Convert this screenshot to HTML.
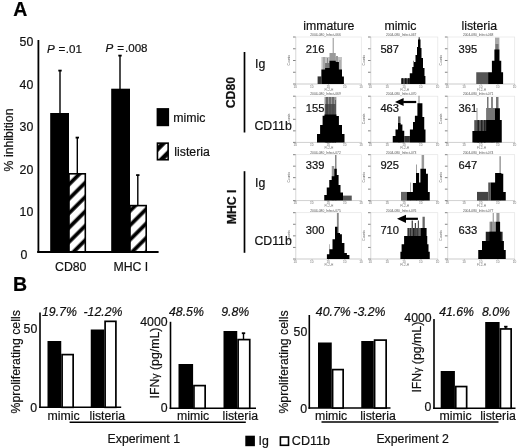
<!DOCTYPE html><html><head><meta charset="utf-8"><style>html,body{margin:0;padding:0;background:#fff;}svg{display:block;filter:blur(0.3px);}text{font-family:"Liberation Sans", sans-serif;}</style></head><body>
<svg width="520" height="448" viewBox="0 0 520 448">
<defs><pattern id="hatch" patternUnits="userSpaceOnUse" width="10.18" height="10.18" patternTransform="rotate(45 0 0)"><rect width="10.18" height="10.18" fill="#fff"/><rect x="4.27" y="0" width="3.75" height="10.18" fill="#000"/></pattern><pattern id="hatch3" patternUnits="userSpaceOnUse" width="10.18" height="10.18" patternTransform="rotate(45 0 0)"><rect width="10.18" height="10.18" fill="#fff"/><rect x="5.05" y="0" width="3.75" height="10.18" fill="#000"/></pattern><pattern id="hatch2" patternUnits="userSpaceOnUse" width="10.18" height="10.18" patternTransform="rotate(45 0 0)"><rect width="10.18" height="10.18" fill="#fff"/><rect x="0.71" y="0" width="4.6" height="10.18" fill="#000"/></pattern></defs>
<rect width="520" height="448" fill="#fff"/>
<text x="13.3" y="16" font-size="19.5" font-weight="bold" fill="#000" stroke="#000" stroke-width="0.2">A</text>
<line x1="38.4" y1="40" x2="38.4" y2="252.6" stroke="#000" stroke-width="1.8"/>
<line x1="37.2" y1="252.0" x2="158.6" y2="252.0" stroke="#000" stroke-width="1.8"/>
<text x="33.3" y="46.2" font-size="12.3" text-anchor="end" fill="#111" stroke="#111" stroke-width="0.2">50</text>
<text x="33.3" y="88.7" font-size="12.3" text-anchor="end" fill="#111" stroke="#111" stroke-width="0.2">40</text>
<text x="33.3" y="131.2" font-size="12.3" text-anchor="end" fill="#111" stroke="#111" stroke-width="0.2">30</text>
<text x="33.3" y="173.7" font-size="12.3" text-anchor="end" fill="#111" stroke="#111" stroke-width="0.2">20</text>
<text x="33.3" y="216.2" font-size="12.3" text-anchor="end" fill="#111" stroke="#111" stroke-width="0.2">10</text>
<text x="20.6" y="258.6" font-size="12.3" fill="#111" stroke="#111" stroke-width="0.2">0</text>
<text x="12.8" y="171.4" font-size="12.3" fill="#111" stroke="#111" stroke-width="0.2" transform="rotate(-90 12.8 171.4)">% inhibition</text>
<text x="47.0" y="52.5" font-size="11.6" font-style="italic" fill="#111" stroke="#111" stroke-width="0.2">P</text>
<text x="58.4" y="52.5" font-size="11.6" fill="#111" stroke="#111" stroke-width="0.2">=</text>
<text x="65.8" y="52.5" font-size="11.6" fill="#111" stroke="#111" stroke-width="0.2">.01</text>
<text x="105.4" y="52.4" font-size="11.6" font-style="italic" fill="#111" stroke="#111" stroke-width="0.2">P</text>
<text x="117.3" y="52.4" font-size="11.6" fill="#111" stroke="#111" stroke-width="0.2">=</text>
<text x="125.0" y="52.4" font-size="11.6" fill="#111" stroke="#111" stroke-width="0.2">.008</text>
<line x1="60.0" y1="70.5" x2="60.0" y2="113" stroke="#000" stroke-width="1.4"/>
<rect x="58.30" y="69.70" width="3.40" height="1.80" fill="#000"/>
<rect x="50.20" y="113.00" width="18.80" height="139.00" fill="#000"/>
<line x1="77.3" y1="137.5" x2="77.3" y2="174" stroke="#000" stroke-width="1.4"/>
<rect x="75.60" y="136.70" width="3.40" height="1.80" fill="#000"/>
<rect x="69" y="173.8" width="16.3" height="78" fill="url(#hatch)" stroke="#000" stroke-width="1.6"/>
<line x1="120.0" y1="55.5" x2="120.0" y2="89" stroke="#000" stroke-width="1.4"/>
<rect x="118.30" y="54.70" width="3.40" height="1.80" fill="#000"/>
<rect x="111.20" y="88.70" width="18.80" height="163.30" fill="#000"/>
<line x1="137.8" y1="175" x2="137.8" y2="205.5" stroke="#000" stroke-width="1.4"/>
<rect x="136.10" y="174.20" width="3.40" height="1.80" fill="#000"/>
<rect x="130" y="205.6" width="16.2" height="46.2" fill="url(#hatch3)" stroke="#000" stroke-width="1.6"/>
<text x="55.0" y="271.3" font-size="12.3" fill="#111" stroke="#111" stroke-width="0.2">CD80</text>
<text x="113.4" y="271.3" font-size="12.3" fill="#111" stroke="#111" stroke-width="0.2">MHC I</text>
<rect x="156.60" y="108.10" width="12.50" height="18.10" fill="#000"/>
<text x="173.3" y="122.3" font-size="12.3" fill="#111" stroke="#111" stroke-width="0.2">mimic</text>
<rect x="157.45" y="143.15" width="10.7" height="16.6" fill="url(#hatch2)" stroke="#000" stroke-width="1.6"/>
<text x="174.3" y="156.0" font-size="12.3" fill="#111" stroke="#111" stroke-width="0.2">listeria</text>
<text x="303.2" y="29.5" font-size="12.3" fill="#111" stroke="#111" stroke-width="0.2">immature</text>
<text x="384.4" y="29.5" font-size="12.3" fill="#111" stroke="#111" stroke-width="0.2">mimic</text>
<text x="461.5" y="29.5" font-size="12.3" fill="#111" stroke="#111" stroke-width="0.2">listeria</text>
<text x="234.6" y="108.3" font-size="12.3" font-weight="bold" fill="#111" stroke="#111" stroke-width="0.2" transform="rotate(-90 234.6 108.3)">CD80</text>
<text x="236.0" y="224.3" font-size="12.3" font-weight="bold" fill="#111" stroke="#111" stroke-width="0.2" transform="rotate(-90 236.0 224.3)">MHC I</text>
<line x1="244.5" y1="52" x2="244.5" y2="132.5" stroke="#000" stroke-width="1.7"/>
<line x1="244.5" y1="171.2" x2="244.5" y2="252.8" stroke="#000" stroke-width="1.7"/>
<text x="255.0" y="68.1" font-size="12.3" fill="#111" stroke="#111" stroke-width="0.2">Ig</text>
<text x="254.4" y="129.8" font-size="12.3" fill="#111" stroke="#111" stroke-width="0.2">CD11b</text>
<text x="255.0" y="187.2" font-size="12.3" fill="#111" stroke="#111" stroke-width="0.2">Ig</text>
<text x="254.4" y="245.2" font-size="12.3" fill="#111" stroke="#111" stroke-width="0.2">CD11b</text>
<rect x="295.6" y="37.0" width="65.7" height="47.0" fill="none" stroke="#e4e4e4" stroke-width="0.7"/>
<line x1="295.90000000000003" y1="37.0" x2="295.90000000000003" y2="84.0" stroke="#d0d0d0" stroke-width="0.6"/>
<line x1="295.6" y1="84.0" x2="361.3" y2="84.0" stroke="#c0c0c0" stroke-width="0.6"/>
<line x1="293.0" y1="37.0" x2="295.6" y2="37.0" stroke="#777" stroke-width="0.9"/>
<line x1="293.0" y1="48.75" x2="295.6" y2="48.75" stroke="#777" stroke-width="0.9"/>
<line x1="293.0" y1="60.5" x2="295.6" y2="60.5" stroke="#777" stroke-width="0.9"/>
<line x1="293.0" y1="72.25" x2="295.6" y2="72.25" stroke="#777" stroke-width="0.9"/>
<line x1="293.0" y1="84.0" x2="295.6" y2="84.0" stroke="#777" stroke-width="0.9"/>
<line x1="295.6" y1="84.0" x2="295.6" y2="85.5" stroke="#999" stroke-width="0.6"/>
<text x="293.6" y="87.6" font-size="3.2" fill="#777">10</text>
<line x1="312.02500000000003" y1="84.0" x2="312.02500000000003" y2="85.5" stroke="#999" stroke-width="0.6"/>
<text x="310.0" y="87.6" font-size="3.2" fill="#777">10</text>
<line x1="328.45000000000005" y1="84.0" x2="328.45000000000005" y2="85.5" stroke="#999" stroke-width="0.6"/>
<text x="326.5" y="87.6" font-size="3.2" fill="#777">10</text>
<line x1="344.875" y1="84.0" x2="344.875" y2="85.5" stroke="#999" stroke-width="0.6"/>
<text x="342.9" y="87.6" font-size="3.2" fill="#777">10</text>
<line x1="361.3" y1="84.0" x2="361.3" y2="85.5" stroke="#999" stroke-width="0.6"/>
<text x="359.3" y="87.6" font-size="3.2" fill="#777">10</text>
<text x="324.5" y="90.6" font-size="3.2" fill="#777">FL2-H</text>
<text x="290.1" y="65.5" font-size="3.4" fill="#666" transform="rotate(-90 290.1 65.5)">Counts</text>
<text x="325.5" y="36.0" font-size="3.3" text-anchor="middle" fill="#555">2004-080_Infect-066</text>
<text x="305.8" y="52.6" font-size="11.2" fill="#111" stroke="#111" stroke-width="0.2">216</text>
<rect x="370.6" y="37.0" width="67.2" height="47.0" fill="none" stroke="#e4e4e4" stroke-width="0.7"/>
<line x1="370.90000000000003" y1="37.0" x2="370.90000000000003" y2="84.0" stroke="#d0d0d0" stroke-width="0.6"/>
<line x1="370.6" y1="84.0" x2="437.8" y2="84.0" stroke="#c0c0c0" stroke-width="0.6"/>
<line x1="368.0" y1="37.0" x2="370.6" y2="37.0" stroke="#777" stroke-width="0.9"/>
<line x1="368.0" y1="48.75" x2="370.6" y2="48.75" stroke="#777" stroke-width="0.9"/>
<line x1="368.0" y1="60.5" x2="370.6" y2="60.5" stroke="#777" stroke-width="0.9"/>
<line x1="368.0" y1="72.25" x2="370.6" y2="72.25" stroke="#777" stroke-width="0.9"/>
<line x1="368.0" y1="84.0" x2="370.6" y2="84.0" stroke="#777" stroke-width="0.9"/>
<line x1="370.6" y1="84.0" x2="370.6" y2="85.5" stroke="#999" stroke-width="0.6"/>
<text x="368.6" y="87.6" font-size="3.2" fill="#777">10</text>
<line x1="387.40000000000003" y1="84.0" x2="387.40000000000003" y2="85.5" stroke="#999" stroke-width="0.6"/>
<text x="385.4" y="87.6" font-size="3.2" fill="#777">10</text>
<line x1="404.20000000000005" y1="84.0" x2="404.20000000000005" y2="85.5" stroke="#999" stroke-width="0.6"/>
<text x="402.2" y="87.6" font-size="3.2" fill="#777">10</text>
<line x1="421.0" y1="84.0" x2="421.0" y2="85.5" stroke="#999" stroke-width="0.6"/>
<text x="419.0" y="87.6" font-size="3.2" fill="#777">10</text>
<line x1="437.8" y1="84.0" x2="437.8" y2="85.5" stroke="#999" stroke-width="0.6"/>
<text x="435.8" y="87.6" font-size="3.2" fill="#777">10</text>
<text x="400.2" y="90.6" font-size="3.2" fill="#777">FL2-H</text>
<text x="365.1" y="65.5" font-size="3.4" fill="#666" transform="rotate(-90 365.1 65.5)">Counts</text>
<text x="401.2" y="36.0" font-size="3.3" text-anchor="middle" fill="#555">2004-080_Infect-067</text>
<text x="380.4" y="52.6" font-size="11.2" fill="#111" stroke="#111" stroke-width="0.2">587</text>
<rect x="447.5" y="37.0" width="67.2" height="47.0" fill="none" stroke="#e4e4e4" stroke-width="0.7"/>
<line x1="447.8" y1="37.0" x2="447.8" y2="84.0" stroke="#d0d0d0" stroke-width="0.6"/>
<line x1="447.5" y1="84.0" x2="514.7" y2="84.0" stroke="#c0c0c0" stroke-width="0.6"/>
<line x1="444.9" y1="37.0" x2="447.5" y2="37.0" stroke="#777" stroke-width="0.9"/>
<line x1="444.9" y1="48.75" x2="447.5" y2="48.75" stroke="#777" stroke-width="0.9"/>
<line x1="444.9" y1="60.5" x2="447.5" y2="60.5" stroke="#777" stroke-width="0.9"/>
<line x1="444.9" y1="72.25" x2="447.5" y2="72.25" stroke="#777" stroke-width="0.9"/>
<line x1="444.9" y1="84.0" x2="447.5" y2="84.0" stroke="#777" stroke-width="0.9"/>
<line x1="447.5" y1="84.0" x2="447.5" y2="85.5" stroke="#999" stroke-width="0.6"/>
<text x="445.5" y="87.6" font-size="3.2" fill="#777">10</text>
<line x1="464.3" y1="84.0" x2="464.3" y2="85.5" stroke="#999" stroke-width="0.6"/>
<text x="462.3" y="87.6" font-size="3.2" fill="#777">10</text>
<line x1="481.1" y1="84.0" x2="481.1" y2="85.5" stroke="#999" stroke-width="0.6"/>
<text x="479.1" y="87.6" font-size="3.2" fill="#777">10</text>
<line x1="497.90000000000003" y1="84.0" x2="497.90000000000003" y2="85.5" stroke="#999" stroke-width="0.6"/>
<text x="495.9" y="87.6" font-size="3.2" fill="#777">10</text>
<line x1="514.7" y1="84.0" x2="514.7" y2="85.5" stroke="#999" stroke-width="0.6"/>
<text x="512.7" y="87.6" font-size="3.2" fill="#777">10</text>
<text x="477.1" y="90.6" font-size="3.2" fill="#777">FL2-H</text>
<text x="442.0" y="65.5" font-size="3.4" fill="#666" transform="rotate(-90 442.0 65.5)">Counts</text>
<text x="478.1" y="36.0" font-size="3.3" text-anchor="middle" fill="#555">2004-080_Infect-068</text>
<text x="458.6" y="52.6" font-size="11.2" fill="#111" stroke="#111" stroke-width="0.2">395</text>
<rect x="295.6" y="96.2" width="65.7" height="46.2" fill="none" stroke="#e4e4e4" stroke-width="0.7"/>
<line x1="295.90000000000003" y1="96.2" x2="295.90000000000003" y2="142.4" stroke="#d0d0d0" stroke-width="0.6"/>
<line x1="295.6" y1="142.4" x2="361.3" y2="142.4" stroke="#c0c0c0" stroke-width="0.6"/>
<line x1="293.0" y1="96.2" x2="295.6" y2="96.2" stroke="#777" stroke-width="0.9"/>
<line x1="293.0" y1="107.75" x2="295.6" y2="107.75" stroke="#777" stroke-width="0.9"/>
<line x1="293.0" y1="119.30000000000001" x2="295.6" y2="119.30000000000001" stroke="#777" stroke-width="0.9"/>
<line x1="293.0" y1="130.85000000000002" x2="295.6" y2="130.85000000000002" stroke="#777" stroke-width="0.9"/>
<line x1="293.0" y1="142.4" x2="295.6" y2="142.4" stroke="#777" stroke-width="0.9"/>
<line x1="295.6" y1="142.4" x2="295.6" y2="143.9" stroke="#999" stroke-width="0.6"/>
<text x="293.6" y="146.0" font-size="3.2" fill="#777">10</text>
<line x1="312.02500000000003" y1="142.4" x2="312.02500000000003" y2="143.9" stroke="#999" stroke-width="0.6"/>
<text x="310.0" y="146.0" font-size="3.2" fill="#777">10</text>
<line x1="328.45000000000005" y1="142.4" x2="328.45000000000005" y2="143.9" stroke="#999" stroke-width="0.6"/>
<text x="326.5" y="146.0" font-size="3.2" fill="#777">10</text>
<line x1="344.875" y1="142.4" x2="344.875" y2="143.9" stroke="#999" stroke-width="0.6"/>
<text x="342.9" y="146.0" font-size="3.2" fill="#777">10</text>
<line x1="361.3" y1="142.4" x2="361.3" y2="143.9" stroke="#999" stroke-width="0.6"/>
<text x="359.3" y="146.0" font-size="3.2" fill="#777">10</text>
<text x="324.5" y="149.0" font-size="3.2" fill="#777">FL2-H</text>
<text x="290.1" y="124.3" font-size="3.4" fill="#666" transform="rotate(-90 290.1 124.3)">Counts</text>
<text x="325.5" y="95.2" font-size="3.3" text-anchor="middle" fill="#555">2004-080_Infect-069</text>
<text x="305.8" y="111.7" font-size="11.2" fill="#111" stroke="#111" stroke-width="0.2">155</text>
<rect x="370.6" y="96.2" width="67.2" height="46.2" fill="none" stroke="#e4e4e4" stroke-width="0.7"/>
<line x1="370.90000000000003" y1="96.2" x2="370.90000000000003" y2="142.4" stroke="#d0d0d0" stroke-width="0.6"/>
<line x1="370.6" y1="142.4" x2="437.8" y2="142.4" stroke="#c0c0c0" stroke-width="0.6"/>
<line x1="368.0" y1="96.2" x2="370.6" y2="96.2" stroke="#777" stroke-width="0.9"/>
<line x1="368.0" y1="107.75" x2="370.6" y2="107.75" stroke="#777" stroke-width="0.9"/>
<line x1="368.0" y1="119.30000000000001" x2="370.6" y2="119.30000000000001" stroke="#777" stroke-width="0.9"/>
<line x1="368.0" y1="130.85000000000002" x2="370.6" y2="130.85000000000002" stroke="#777" stroke-width="0.9"/>
<line x1="368.0" y1="142.4" x2="370.6" y2="142.4" stroke="#777" stroke-width="0.9"/>
<line x1="370.6" y1="142.4" x2="370.6" y2="143.9" stroke="#999" stroke-width="0.6"/>
<text x="368.6" y="146.0" font-size="3.2" fill="#777">10</text>
<line x1="387.40000000000003" y1="142.4" x2="387.40000000000003" y2="143.9" stroke="#999" stroke-width="0.6"/>
<text x="385.4" y="146.0" font-size="3.2" fill="#777">10</text>
<line x1="404.20000000000005" y1="142.4" x2="404.20000000000005" y2="143.9" stroke="#999" stroke-width="0.6"/>
<text x="402.2" y="146.0" font-size="3.2" fill="#777">10</text>
<line x1="421.0" y1="142.4" x2="421.0" y2="143.9" stroke="#999" stroke-width="0.6"/>
<text x="419.0" y="146.0" font-size="3.2" fill="#777">10</text>
<line x1="437.8" y1="142.4" x2="437.8" y2="143.9" stroke="#999" stroke-width="0.6"/>
<text x="435.8" y="146.0" font-size="3.2" fill="#777">10</text>
<text x="400.2" y="149.0" font-size="3.2" fill="#777">FL2-H</text>
<text x="365.1" y="124.3" font-size="3.4" fill="#666" transform="rotate(-90 365.1 124.3)">Counts</text>
<text x="401.2" y="95.2" font-size="3.3" text-anchor="middle" fill="#555">2004-080_Infect-070</text>
<text x="380.4" y="111.7" font-size="11.2" fill="#111" stroke="#111" stroke-width="0.2">463</text>
<rect x="447.5" y="96.2" width="67.2" height="46.2" fill="none" stroke="#e4e4e4" stroke-width="0.7"/>
<line x1="447.8" y1="96.2" x2="447.8" y2="142.4" stroke="#d0d0d0" stroke-width="0.6"/>
<line x1="447.5" y1="142.4" x2="514.7" y2="142.4" stroke="#c0c0c0" stroke-width="0.6"/>
<line x1="444.9" y1="96.2" x2="447.5" y2="96.2" stroke="#777" stroke-width="0.9"/>
<line x1="444.9" y1="107.75" x2="447.5" y2="107.75" stroke="#777" stroke-width="0.9"/>
<line x1="444.9" y1="119.30000000000001" x2="447.5" y2="119.30000000000001" stroke="#777" stroke-width="0.9"/>
<line x1="444.9" y1="130.85000000000002" x2="447.5" y2="130.85000000000002" stroke="#777" stroke-width="0.9"/>
<line x1="444.9" y1="142.4" x2="447.5" y2="142.4" stroke="#777" stroke-width="0.9"/>
<line x1="447.5" y1="142.4" x2="447.5" y2="143.9" stroke="#999" stroke-width="0.6"/>
<text x="445.5" y="146.0" font-size="3.2" fill="#777">10</text>
<line x1="464.3" y1="142.4" x2="464.3" y2="143.9" stroke="#999" stroke-width="0.6"/>
<text x="462.3" y="146.0" font-size="3.2" fill="#777">10</text>
<line x1="481.1" y1="142.4" x2="481.1" y2="143.9" stroke="#999" stroke-width="0.6"/>
<text x="479.1" y="146.0" font-size="3.2" fill="#777">10</text>
<line x1="497.90000000000003" y1="142.4" x2="497.90000000000003" y2="143.9" stroke="#999" stroke-width="0.6"/>
<text x="495.9" y="146.0" font-size="3.2" fill="#777">10</text>
<line x1="514.7" y1="142.4" x2="514.7" y2="143.9" stroke="#999" stroke-width="0.6"/>
<text x="512.7" y="146.0" font-size="3.2" fill="#777">10</text>
<text x="477.1" y="149.0" font-size="3.2" fill="#777">FL2-H</text>
<text x="442.0" y="124.3" font-size="3.4" fill="#666" transform="rotate(-90 442.0 124.3)">Counts</text>
<text x="478.1" y="95.2" font-size="3.3" text-anchor="middle" fill="#555">2004-080_Infect-071</text>
<text x="458.6" y="111.7" font-size="11.2" fill="#111" stroke="#111" stroke-width="0.2">361</text>
<rect x="295.6" y="154.7" width="65.7" height="45.9" fill="none" stroke="#e4e4e4" stroke-width="0.7"/>
<line x1="295.90000000000003" y1="154.7" x2="295.90000000000003" y2="200.6" stroke="#d0d0d0" stroke-width="0.6"/>
<line x1="295.6" y1="200.6" x2="361.3" y2="200.6" stroke="#c0c0c0" stroke-width="0.6"/>
<line x1="293.0" y1="154.7" x2="295.6" y2="154.7" stroke="#777" stroke-width="0.9"/>
<line x1="293.0" y1="166.17499999999998" x2="295.6" y2="166.17499999999998" stroke="#777" stroke-width="0.9"/>
<line x1="293.0" y1="177.64999999999998" x2="295.6" y2="177.64999999999998" stroke="#777" stroke-width="0.9"/>
<line x1="293.0" y1="189.125" x2="295.6" y2="189.125" stroke="#777" stroke-width="0.9"/>
<line x1="293.0" y1="200.6" x2="295.6" y2="200.6" stroke="#777" stroke-width="0.9"/>
<line x1="295.6" y1="200.6" x2="295.6" y2="202.1" stroke="#999" stroke-width="0.6"/>
<text x="293.6" y="204.2" font-size="3.2" fill="#777">10</text>
<line x1="312.02500000000003" y1="200.6" x2="312.02500000000003" y2="202.1" stroke="#999" stroke-width="0.6"/>
<text x="310.0" y="204.2" font-size="3.2" fill="#777">10</text>
<line x1="328.45000000000005" y1="200.6" x2="328.45000000000005" y2="202.1" stroke="#999" stroke-width="0.6"/>
<text x="326.5" y="204.2" font-size="3.2" fill="#777">10</text>
<line x1="344.875" y1="200.6" x2="344.875" y2="202.1" stroke="#999" stroke-width="0.6"/>
<text x="342.9" y="204.2" font-size="3.2" fill="#777">10</text>
<line x1="361.3" y1="200.6" x2="361.3" y2="202.1" stroke="#999" stroke-width="0.6"/>
<text x="359.3" y="204.2" font-size="3.2" fill="#777">10</text>
<text x="324.5" y="207.2" font-size="3.2" fill="#777">FL2-H</text>
<text x="290.1" y="182.6" font-size="3.4" fill="#666" transform="rotate(-90 290.1 182.6)">Counts</text>
<text x="325.5" y="153.7" font-size="3.3" text-anchor="middle" fill="#555">2004-080_Infect-072</text>
<text x="305.8" y="169.4" font-size="11.2" fill="#111" stroke="#111" stroke-width="0.2">339</text>
<rect x="370.6" y="154.7" width="67.2" height="45.9" fill="none" stroke="#e4e4e4" stroke-width="0.7"/>
<line x1="370.90000000000003" y1="154.7" x2="370.90000000000003" y2="200.6" stroke="#d0d0d0" stroke-width="0.6"/>
<line x1="370.6" y1="200.6" x2="437.8" y2="200.6" stroke="#c0c0c0" stroke-width="0.6"/>
<line x1="368.0" y1="154.7" x2="370.6" y2="154.7" stroke="#777" stroke-width="0.9"/>
<line x1="368.0" y1="166.17499999999998" x2="370.6" y2="166.17499999999998" stroke="#777" stroke-width="0.9"/>
<line x1="368.0" y1="177.64999999999998" x2="370.6" y2="177.64999999999998" stroke="#777" stroke-width="0.9"/>
<line x1="368.0" y1="189.125" x2="370.6" y2="189.125" stroke="#777" stroke-width="0.9"/>
<line x1="368.0" y1="200.6" x2="370.6" y2="200.6" stroke="#777" stroke-width="0.9"/>
<line x1="370.6" y1="200.6" x2="370.6" y2="202.1" stroke="#999" stroke-width="0.6"/>
<text x="368.6" y="204.2" font-size="3.2" fill="#777">10</text>
<line x1="387.40000000000003" y1="200.6" x2="387.40000000000003" y2="202.1" stroke="#999" stroke-width="0.6"/>
<text x="385.4" y="204.2" font-size="3.2" fill="#777">10</text>
<line x1="404.20000000000005" y1="200.6" x2="404.20000000000005" y2="202.1" stroke="#999" stroke-width="0.6"/>
<text x="402.2" y="204.2" font-size="3.2" fill="#777">10</text>
<line x1="421.0" y1="200.6" x2="421.0" y2="202.1" stroke="#999" stroke-width="0.6"/>
<text x="419.0" y="204.2" font-size="3.2" fill="#777">10</text>
<line x1="437.8" y1="200.6" x2="437.8" y2="202.1" stroke="#999" stroke-width="0.6"/>
<text x="435.8" y="204.2" font-size="3.2" fill="#777">10</text>
<text x="400.2" y="207.2" font-size="3.2" fill="#777">FL2-H</text>
<text x="365.1" y="182.6" font-size="3.4" fill="#666" transform="rotate(-90 365.1 182.6)">Counts</text>
<text x="401.2" y="153.7" font-size="3.3" text-anchor="middle" fill="#555">2004-080_Infect-073</text>
<text x="380.4" y="169.4" font-size="11.2" fill="#111" stroke="#111" stroke-width="0.2">925</text>
<rect x="447.5" y="154.7" width="67.2" height="45.9" fill="none" stroke="#e4e4e4" stroke-width="0.7"/>
<line x1="447.8" y1="154.7" x2="447.8" y2="200.6" stroke="#d0d0d0" stroke-width="0.6"/>
<line x1="447.5" y1="200.6" x2="514.7" y2="200.6" stroke="#c0c0c0" stroke-width="0.6"/>
<line x1="444.9" y1="154.7" x2="447.5" y2="154.7" stroke="#777" stroke-width="0.9"/>
<line x1="444.9" y1="166.17499999999998" x2="447.5" y2="166.17499999999998" stroke="#777" stroke-width="0.9"/>
<line x1="444.9" y1="177.64999999999998" x2="447.5" y2="177.64999999999998" stroke="#777" stroke-width="0.9"/>
<line x1="444.9" y1="189.125" x2="447.5" y2="189.125" stroke="#777" stroke-width="0.9"/>
<line x1="444.9" y1="200.6" x2="447.5" y2="200.6" stroke="#777" stroke-width="0.9"/>
<line x1="447.5" y1="200.6" x2="447.5" y2="202.1" stroke="#999" stroke-width="0.6"/>
<text x="445.5" y="204.2" font-size="3.2" fill="#777">10</text>
<line x1="464.3" y1="200.6" x2="464.3" y2="202.1" stroke="#999" stroke-width="0.6"/>
<text x="462.3" y="204.2" font-size="3.2" fill="#777">10</text>
<line x1="481.1" y1="200.6" x2="481.1" y2="202.1" stroke="#999" stroke-width="0.6"/>
<text x="479.1" y="204.2" font-size="3.2" fill="#777">10</text>
<line x1="497.90000000000003" y1="200.6" x2="497.90000000000003" y2="202.1" stroke="#999" stroke-width="0.6"/>
<text x="495.9" y="204.2" font-size="3.2" fill="#777">10</text>
<line x1="514.7" y1="200.6" x2="514.7" y2="202.1" stroke="#999" stroke-width="0.6"/>
<text x="512.7" y="204.2" font-size="3.2" fill="#777">10</text>
<text x="477.1" y="207.2" font-size="3.2" fill="#777">FL2-H</text>
<text x="442.0" y="182.6" font-size="3.4" fill="#666" transform="rotate(-90 442.0 182.6)">Counts</text>
<text x="478.1" y="153.7" font-size="3.3" text-anchor="middle" fill="#555">2004-080_Infect-074</text>
<text x="458.6" y="169.4" font-size="11.2" fill="#111" stroke="#111" stroke-width="0.2">647</text>
<rect x="295.6" y="212.7" width="65.7" height="46.3" fill="none" stroke="#e4e4e4" stroke-width="0.7"/>
<line x1="295.90000000000003" y1="212.7" x2="295.90000000000003" y2="259.0" stroke="#d0d0d0" stroke-width="0.6"/>
<line x1="295.6" y1="259.0" x2="361.3" y2="259.0" stroke="#c0c0c0" stroke-width="0.6"/>
<line x1="293.0" y1="212.7" x2="295.6" y2="212.7" stroke="#777" stroke-width="0.9"/>
<line x1="293.0" y1="224.27499999999998" x2="295.6" y2="224.27499999999998" stroke="#777" stroke-width="0.9"/>
<line x1="293.0" y1="235.85" x2="295.6" y2="235.85" stroke="#777" stroke-width="0.9"/>
<line x1="293.0" y1="247.425" x2="295.6" y2="247.425" stroke="#777" stroke-width="0.9"/>
<line x1="293.0" y1="259.0" x2="295.6" y2="259.0" stroke="#777" stroke-width="0.9"/>
<line x1="295.6" y1="259.0" x2="295.6" y2="260.5" stroke="#999" stroke-width="0.6"/>
<text x="293.6" y="262.6" font-size="3.2" fill="#777">10</text>
<line x1="312.02500000000003" y1="259.0" x2="312.02500000000003" y2="260.5" stroke="#999" stroke-width="0.6"/>
<text x="310.0" y="262.6" font-size="3.2" fill="#777">10</text>
<line x1="328.45000000000005" y1="259.0" x2="328.45000000000005" y2="260.5" stroke="#999" stroke-width="0.6"/>
<text x="326.5" y="262.6" font-size="3.2" fill="#777">10</text>
<line x1="344.875" y1="259.0" x2="344.875" y2="260.5" stroke="#999" stroke-width="0.6"/>
<text x="342.9" y="262.6" font-size="3.2" fill="#777">10</text>
<line x1="361.3" y1="259.0" x2="361.3" y2="260.5" stroke="#999" stroke-width="0.6"/>
<text x="359.3" y="262.6" font-size="3.2" fill="#777">10</text>
<text x="324.5" y="265.6" font-size="3.2" fill="#777">FL2-H</text>
<text x="290.1" y="240.8" font-size="3.4" fill="#666" transform="rotate(-90 290.1 240.8)">Counts</text>
<text x="325.5" y="211.7" font-size="3.3" text-anchor="middle" fill="#555">2004-080_Infect-075</text>
<text x="305.8" y="233.8" font-size="11.2" fill="#111" stroke="#111" stroke-width="0.2">300</text>
<rect x="370.6" y="212.7" width="67.2" height="46.3" fill="none" stroke="#e4e4e4" stroke-width="0.7"/>
<line x1="370.90000000000003" y1="212.7" x2="370.90000000000003" y2="259.0" stroke="#d0d0d0" stroke-width="0.6"/>
<line x1="370.6" y1="259.0" x2="437.8" y2="259.0" stroke="#c0c0c0" stroke-width="0.6"/>
<line x1="368.0" y1="212.7" x2="370.6" y2="212.7" stroke="#777" stroke-width="0.9"/>
<line x1="368.0" y1="224.27499999999998" x2="370.6" y2="224.27499999999998" stroke="#777" stroke-width="0.9"/>
<line x1="368.0" y1="235.85" x2="370.6" y2="235.85" stroke="#777" stroke-width="0.9"/>
<line x1="368.0" y1="247.425" x2="370.6" y2="247.425" stroke="#777" stroke-width="0.9"/>
<line x1="368.0" y1="259.0" x2="370.6" y2="259.0" stroke="#777" stroke-width="0.9"/>
<line x1="370.6" y1="259.0" x2="370.6" y2="260.5" stroke="#999" stroke-width="0.6"/>
<text x="368.6" y="262.6" font-size="3.2" fill="#777">10</text>
<line x1="387.40000000000003" y1="259.0" x2="387.40000000000003" y2="260.5" stroke="#999" stroke-width="0.6"/>
<text x="385.4" y="262.6" font-size="3.2" fill="#777">10</text>
<line x1="404.20000000000005" y1="259.0" x2="404.20000000000005" y2="260.5" stroke="#999" stroke-width="0.6"/>
<text x="402.2" y="262.6" font-size="3.2" fill="#777">10</text>
<line x1="421.0" y1="259.0" x2="421.0" y2="260.5" stroke="#999" stroke-width="0.6"/>
<text x="419.0" y="262.6" font-size="3.2" fill="#777">10</text>
<line x1="437.8" y1="259.0" x2="437.8" y2="260.5" stroke="#999" stroke-width="0.6"/>
<text x="435.8" y="262.6" font-size="3.2" fill="#777">10</text>
<text x="400.2" y="265.6" font-size="3.2" fill="#777">FL2-H</text>
<text x="365.1" y="240.8" font-size="3.4" fill="#666" transform="rotate(-90 365.1 240.8)">Counts</text>
<text x="401.2" y="211.7" font-size="3.3" text-anchor="middle" fill="#555">2004-080_Infect-076</text>
<text x="380.4" y="233.8" font-size="11.2" fill="#111" stroke="#111" stroke-width="0.2">710</text>
<rect x="447.5" y="212.7" width="67.2" height="46.3" fill="none" stroke="#e4e4e4" stroke-width="0.7"/>
<line x1="447.8" y1="212.7" x2="447.8" y2="259.0" stroke="#d0d0d0" stroke-width="0.6"/>
<line x1="447.5" y1="259.0" x2="514.7" y2="259.0" stroke="#c0c0c0" stroke-width="0.6"/>
<line x1="444.9" y1="212.7" x2="447.5" y2="212.7" stroke="#777" stroke-width="0.9"/>
<line x1="444.9" y1="224.27499999999998" x2="447.5" y2="224.27499999999998" stroke="#777" stroke-width="0.9"/>
<line x1="444.9" y1="235.85" x2="447.5" y2="235.85" stroke="#777" stroke-width="0.9"/>
<line x1="444.9" y1="247.425" x2="447.5" y2="247.425" stroke="#777" stroke-width="0.9"/>
<line x1="444.9" y1="259.0" x2="447.5" y2="259.0" stroke="#777" stroke-width="0.9"/>
<line x1="447.5" y1="259.0" x2="447.5" y2="260.5" stroke="#999" stroke-width="0.6"/>
<text x="445.5" y="262.6" font-size="3.2" fill="#777">10</text>
<line x1="464.3" y1="259.0" x2="464.3" y2="260.5" stroke="#999" stroke-width="0.6"/>
<text x="462.3" y="262.6" font-size="3.2" fill="#777">10</text>
<line x1="481.1" y1="259.0" x2="481.1" y2="260.5" stroke="#999" stroke-width="0.6"/>
<text x="479.1" y="262.6" font-size="3.2" fill="#777">10</text>
<line x1="497.90000000000003" y1="259.0" x2="497.90000000000003" y2="260.5" stroke="#999" stroke-width="0.6"/>
<text x="495.9" y="262.6" font-size="3.2" fill="#777">10</text>
<line x1="514.7" y1="259.0" x2="514.7" y2="260.5" stroke="#999" stroke-width="0.6"/>
<text x="512.7" y="262.6" font-size="3.2" fill="#777">10</text>
<text x="477.1" y="265.6" font-size="3.2" fill="#777">FL2-H</text>
<text x="442.0" y="240.8" font-size="3.4" fill="#666" transform="rotate(-90 442.0 240.8)">Counts</text>
<text x="478.1" y="211.7" font-size="3.3" text-anchor="middle" fill="#555">2004-080_Infect-077</text>
<text x="458.6" y="233.8" font-size="11.2" fill="#111" stroke="#111" stroke-width="0.2">633</text>
<path d="M321.40 84.00V57.00H342.00V84.00Z" fill="#c4c4c4"/>
<path d="M332.60 84.00V38.00H333.90V84.00Z" fill="#aaa"/>
<path d="M329.50 84.00V53.00H335.75V84.00ZM336.00 84.00V56.00H338.00V84.00ZM339.50 84.00V60.00H340.50V84.00Z" fill="#999"/>
<path d="M323.50 84.00V57.00H324.50V84.00ZM327.00 84.00V58.00H328.00V84.00Z" fill="#888"/>
<path d="M325.10 84.00V63.00H329.50V84.00Z" fill="#777"/>
<path d="M317.60 84.00V76.40H321.40V84.00Z" fill="#333"/>
<path d="M321.40 84.00V69.50H325.10V84.00ZM325.10 84.00V68.00H329.50V84.00ZM329.50 84.00V60.75H335.75V84.00ZM335.75 84.00V62.00H338.90V84.00ZM338.90 84.00V69.50H342.00V84.00ZM342.00 84.00V76.40H343.90V84.00Z" fill="#000"/>
<path d="M413.00 84.00V60.75H414.00V84.00Z" fill="#888"/>
<path d="M418.50 84.00V37.20H420.00V84.00Z" fill="#666"/>
<path d="M401.00 84.00V78.25H409.75V84.00Z" fill="#444"/>
<path d="M402.00 84.00V78.25H403.00V84.00ZM405.00 84.00V78.25H406.50V84.00ZM408.00 84.00V78.25H409.75V84.00Z" fill="#111"/>
<path d="M409.75 84.00V73.25H412.25V84.00ZM412.25 84.00V67.00H414.00V84.00ZM414.00 84.00V62.00H415.50V84.00ZM415.50 84.00V55.00H417.00V84.00ZM417.00 84.00V47.00H418.00V84.00ZM418.00 84.00V39.50H420.50V84.00ZM420.50 84.00V48.00H421.50V84.00ZM421.50 84.00V58.00H423.00V84.00ZM423.00 84.00V68.00H424.50V84.00ZM424.50 84.00V76.00H425.40V84.00Z" fill="#000"/>
<path d="M495.00 84.00V37.60H499.40V84.00Z" fill="#aaa"/>
<path d="M495.50 84.00V44.00H498.50V84.00Z" fill="#777"/>
<path d="M476.25 84.00V72.25H488.10V84.00Z" fill="#555"/>
<path d="M488.10 84.00V72.25H491.90V84.00ZM491.90 84.00V60.75H494.40V84.00ZM494.40 84.00V49.50H499.40V84.00ZM499.40 84.00V60.75H501.25V84.00ZM501.25 84.00V72.25H503.10V84.00Z" fill="#000"/>
<path d="M324.50 142.40V97.00H336.40V142.40Z" fill="#999"/>
<path d="M335.00 142.40V100.00H336.00V142.40Z" fill="#666"/>
<path d="M325.00 142.40V104.00H336.00V142.40Z" fill="#555"/>
<path d="M329.50 142.40V97.00H330.50V142.40ZM332.50 142.40V97.00H333.50V142.40Z" fill="#444"/>
<path d="M326.50 142.40V97.00H327.50V142.40Z" fill="#333"/>
<path d="M317.00 142.40V133.90H320.10V142.40ZM320.10 142.40V125.10H322.60V142.40ZM322.60 142.40V115.75H324.50V142.40ZM324.50 142.40V114.50H336.40V142.40ZM336.40 142.40V116.00H338.90V142.40ZM338.90 142.40V125.00H342.00V142.40ZM342.00 142.40V133.90H344.50V142.40Z" fill="#000"/>
<path d="M418.50 142.40V95.75H419.50V142.40Z" fill="#888"/>
<path d="M398.00 142.40V116.40H400.50V142.40Z" fill="#666"/>
<path d="M404.25 142.40V136.00H409.90V142.40Z" fill="#333"/>
<path d="M392.75 142.40V136.00H395.50V142.40ZM395.50 142.40V129.50H398.00V142.40ZM398.00 142.40V123.00H400.50V142.40ZM400.50 142.40V124.50H402.40V142.40ZM402.40 142.40V130.75H404.25V142.40ZM409.90 142.40V129.50H413.00V142.40ZM413.00 142.40V122.00H414.90V142.40ZM414.90 142.40V115.75H417.40V142.40ZM417.40 142.40V103.25H422.40V142.40ZM422.40 142.40V117.00H424.25V142.40ZM424.25 142.40V129.50H425.50V142.40Z" fill="#000"/>
<path d="M476.50 142.40V108.00H477.50V142.40Z" fill="#999"/>
<path d="M491.00 142.40V97.00H493.00V142.40Z" fill="#888"/>
<path d="M486.10 142.40V108.00H494.90V142.40ZM487.00 142.40V97.00H488.50V142.40ZM496.00 142.40V97.00H498.50V142.40Z" fill="#777"/>
<path d="M474.25 142.40V120.10H486.10V142.40Z" fill="#555"/>
<path d="M477.50 142.40V120.10H479.00V142.40ZM481.00 142.40V120.10H482.50V142.40ZM484.00 142.40V120.10H485.50V142.40Z" fill="#222"/>
<path d="M472.40 142.40V131.00H501.75V142.40ZM486.10 142.40V120.10H494.90V142.40ZM494.90 142.40V108.25H499.90V142.40ZM499.90 142.40V120.10H501.75V142.40Z" fill="#000"/>
<path d="M331.75 200.60V166.00H334.25V200.60Z" fill="#999"/>
<path d="M335.00 200.60V155.00H336.50V200.60Z" fill="#888"/>
<path d="M343.00 200.60V195.60H351.75V200.60Z" fill="#555"/>
<path d="M324.25 200.60V195.00H326.75V200.60ZM326.75 200.60V187.50H329.25V200.60ZM329.25 200.60V180.00H331.75V200.60ZM331.75 200.60V176.25H334.25V200.60ZM334.25 200.60V168.75H336.75V200.60ZM336.75 200.60V175.00H338.60V200.60ZM338.60 200.60V185.00H340.50V200.60ZM340.50 200.60V192.50H343.00V200.60Z" fill="#000"/>
<path d="M421.60 200.60V155.00H424.10V200.60Z" fill="#999"/>
<path d="M410.40 200.60V182.50H411.00V200.60ZM416.00 200.60V164.40H416.70V200.60Z" fill="#777"/>
<path d="M401.00 200.60V191.90H406.60V200.60Z" fill="#666"/>
<path d="M406.60 200.60V191.90H412.90V200.60ZM412.90 200.60V183.10H416.00V200.60ZM416.00 200.60V173.10H419.10V200.60ZM419.10 200.60V182.50H420.40V200.60ZM420.40 200.60V168.75H426.00V200.60ZM426.00 200.60V173.75H427.90V200.60ZM427.90 200.60V191.90H429.75V200.60Z" fill="#000"/>
<path d="M499.50 200.60V156.25H500.75V200.60Z" fill="#888"/>
<path d="M488.25 200.60V182.50H490.75V200.60Z" fill="#555"/>
<path d="M477.00 200.60V191.90H488.25V200.60Z" fill="#444"/>
<path d="M490.75 200.60V182.50H495.10V200.60ZM495.10 200.60V173.10H498.25V200.60ZM498.25 200.60V173.10H501.40V200.60ZM501.40 200.60V173.75H503.25V200.60ZM503.25 200.60V191.90H505.75V200.60Z" fill="#000"/>
<path d="M329.40 259.00V244.25H330.00V259.00ZM336.90 259.00V213.00H338.75V259.00Z" fill="#888"/>
<path d="M326.90 259.00V254.25H329.40V259.00ZM329.40 259.00V249.25H332.50V259.00ZM332.50 259.00V239.25H335.00V259.00ZM335.00 259.00V226.75H337.50V259.00ZM337.50 259.00V233.00H340.00V259.00ZM340.00 259.00V234.25H341.90V259.00ZM341.90 259.00V243.00H344.40V259.00ZM344.40 259.00V253.00H346.90V259.00ZM346.90 259.00V254.90H349.40V259.00Z" fill="#000"/>
<path d="M407.90 259.00V228.00H420.40V259.00ZM422.50 259.00V216.75H424.80V259.00Z" fill="#666"/>
<path d="M411.60 259.00V220.50H413.00V259.00ZM417.80 259.00V220.50H419.00V259.00Z" fill="#555"/>
<path d="M414.80 259.00V223.00H416.00V259.00Z" fill="#444"/>
<path d="M410.00 259.00V228.00H411.00V259.00ZM416.50 259.00V228.00H417.80V259.00Z" fill="#333"/>
<path d="M407.50 259.00V228.00H408.70V259.00ZM413.00 259.00V228.00H414.50V259.00Z" fill="#222"/>
<path d="M400.40 259.00V251.75H429.75V259.00ZM401.60 259.00V244.25H428.50V259.00ZM404.10 259.00V236.10H427.25V259.00ZM420.40 259.00V228.00H426.60V259.00Z" fill="#000"/>
<path d="M492.60 259.00V213.00H494.00V259.00Z" fill="#aaa"/>
<path d="M489.50 259.00V221.75H495.75V259.00ZM496.40 259.00V213.00H499.50V259.00Z" fill="#999"/>
<path d="M490.60 259.00V221.75H491.90V259.00Z" fill="#777"/>
<path d="M485.75 259.00V231.75H502.60V259.00Z" fill="#222"/>
<path d="M478.25 259.00V249.90H505.75V259.00ZM482.00 259.00V241.10H503.90V259.00ZM489.50 259.00V231.75H500.75V259.00ZM495.75 259.00V221.75H500.10V259.00Z" fill="#000"/>
<line x1="403.1" y1="102.0" x2="416.2" y2="102.0" stroke="#000" stroke-width="2.2"/>
<polygon points="395.0,102.0 403.6,98.1 403.6,105.9" fill="#000"/>
<line x1="405.5" y1="218.8" x2="417.9" y2="218.8" stroke="#000" stroke-width="2.2"/>
<polygon points="397.0,218.8 406.0,214.70000000000002 406.0,222.9" fill="#000"/>
<text x="13.0" y="291.2" font-size="19.5" font-weight="bold" fill="#000" stroke="#000" stroke-width="0.2">B</text>
<line x1="40.0" y1="312.5" x2="40.0" y2="408.1" stroke="#000" stroke-width="1.6"/>
<line x1="39.2" y1="407.3" x2="121.2" y2="407.3" stroke="#000" stroke-width="1.6"/>
<text x="37.3" y="332.6" font-size="12.3" text-anchor="end" fill="#111" stroke="#111" stroke-width="0.2">50</text>
<text x="37.2" y="411.6" font-size="12.3" text-anchor="end" fill="#111" stroke="#111" stroke-width="0.2">0</text>
<rect x="47.50" y="341.00" width="13.75" height="66.30" fill="#000"/>
<rect x="62.10" y="354.60" width="11.05" height="52.70" fill="#fff" stroke="#000" stroke-width="1.7"/>
<rect x="90.75" y="329.50" width="13.50" height="77.80" fill="#000"/>
<rect x="105.10" y="321.35" width="10.80" height="85.95" fill="#fff" stroke="#000" stroke-width="1.7"/>
<text x="42.0" y="316.0" font-size="12.3" font-style="italic" fill="#111" stroke="#111" stroke-width="0.2">19.7%</text>
<text x="83.5" y="316.0" font-size="12.3" font-style="italic" fill="#111" stroke="#111" stroke-width="0.2">-12.2%</text>
<text x="47.6" y="419.5" font-size="12.3" fill="#111" stroke="#111" stroke-width="0.2">mimic</text>
<text x="89.5" y="419.5" font-size="12.3" fill="#111" stroke="#111" stroke-width="0.2">listeria</text>
<text x="20.3" y="413.4" font-size="12.3" fill="#111" stroke="#111" stroke-width="0.2" transform="rotate(-90 20.3 413.4)">%proliferating cells</text>
<line x1="170.5" y1="321.8" x2="170.5" y2="409.1" stroke="#000" stroke-width="1.6"/>
<line x1="169.7" y1="408.3" x2="256.0" y2="408.3" stroke="#000" stroke-width="1.6"/>
<text x="167.6" y="325.6" font-size="12.3" text-anchor="end" fill="#111" stroke="#111" stroke-width="0.2">4000</text>
<text x="167.6" y="412.0" font-size="12.3" text-anchor="end" fill="#111" stroke="#111" stroke-width="0.2">0</text>
<rect x="178.50" y="364.00" width="14.60" height="44.30" fill="#000"/>
<rect x="193.95" y="385.60" width="11.20" height="22.70" fill="#fff" stroke="#000" stroke-width="1.7"/>
<rect x="223.50" y="331.00" width="13.75" height="77.30" fill="#000"/>
<rect x="238.10" y="339.60" width="11.65" height="68.70" fill="#fff" stroke="#000" stroke-width="1.7"/>
<text x="169.0" y="316.0" font-size="12.3" font-style="italic" fill="#111" stroke="#111" stroke-width="0.2">48.5%</text>
<text x="221.2" y="316.0" font-size="12.3" font-style="italic" fill="#111" stroke="#111" stroke-width="0.2">9.8%</text>
<text x="177.0" y="419.5" font-size="12.3" fill="#111" stroke="#111" stroke-width="0.2">mimic</text>
<text x="222.5" y="419.5" font-size="12.3" fill="#111" stroke="#111" stroke-width="0.2">listeria</text>
<text x="158.7" y="398.5" font-size="12.3" fill="#111" stroke="#111" stroke-width="0.2" transform="rotate(-90 158.7 398.5)">IFN<tspan font-size="10.5">&#947;</tspan> (pg/mL)</text>
<line x1="243.5" y1="333.1" x2="243.5" y2="339" stroke="#000" stroke-width="1.4"/>
<rect x="241.80" y="332.30" width="3.40" height="1.80" fill="#000"/>
<line x1="309.3" y1="315.0" x2="309.3" y2="408.8" stroke="#000" stroke-width="1.6"/>
<line x1="308.5" y1="408.0" x2="390.5" y2="408.0" stroke="#000" stroke-width="1.6"/>
<text x="307.3" y="335.5" font-size="12.3" text-anchor="end" fill="#111" stroke="#111" stroke-width="0.2">50</text>
<text x="307.0" y="413.4" font-size="12.3" text-anchor="end" fill="#111" stroke="#111" stroke-width="0.2">0</text>
<rect x="318.00" y="342.50" width="13.75" height="65.50" fill="#000"/>
<rect x="332.60" y="369.60" width="10.55" height="38.40" fill="#fff" stroke="#000" stroke-width="1.7"/>
<rect x="361.25" y="341.00" width="12.50" height="67.00" fill="#000"/>
<rect x="374.60" y="340.10" width="11.55" height="67.90" fill="#fff" stroke="#000" stroke-width="1.7"/>
<text x="315.8" y="316.0" font-size="12.3" font-style="italic" fill="#111" stroke="#111" stroke-width="0.2">40.7%</text>
<text x="353.3" y="316.0" font-size="12.3" font-style="italic" fill="#111" stroke="#111" stroke-width="0.2">-3.2%</text>
<text x="315.0" y="419.5" font-size="12.3" fill="#111" stroke="#111" stroke-width="0.2">mimic</text>
<text x="360.2" y="419.5" font-size="12.3" fill="#111" stroke="#111" stroke-width="0.2">listeria</text>
<text x="288.4" y="413.6" font-size="12.3" fill="#111" stroke="#111" stroke-width="0.2" transform="rotate(-90 288.4 413.6)">%proliferating cells</text>
<line x1="434.0" y1="319.0" x2="434.0" y2="409.1" stroke="#000" stroke-width="1.6"/>
<line x1="433.2" y1="408.3" x2="515.5" y2="408.3" stroke="#000" stroke-width="1.6"/>
<text x="431.7" y="322.0" font-size="12.3" text-anchor="end" fill="#111" stroke="#111" stroke-width="0.2">4000</text>
<text x="431.3" y="411.2" font-size="12.3" text-anchor="end" fill="#111" stroke="#111" stroke-width="0.2">0</text>
<rect x="440.70" y="371.00" width="14.20" height="37.30" fill="#000"/>
<rect x="455.75" y="386.55" width="10.90" height="21.75" fill="#fff" stroke="#000" stroke-width="1.7"/>
<rect x="485.20" y="322.00" width="14.40" height="86.30" fill="#000"/>
<rect x="500.45" y="328.95" width="10.70" height="79.35" fill="#fff" stroke="#000" stroke-width="1.7"/>
<text x="439.2" y="316.0" font-size="12.3" font-style="italic" fill="#111" stroke="#111" stroke-width="0.2">41.6%</text>
<text x="482.0" y="316.0" font-size="12.3" font-style="italic" fill="#111" stroke="#111" stroke-width="0.2">8.0%</text>
<text x="439.6" y="419.5" font-size="12.3" fill="#111" stroke="#111" stroke-width="0.2">mimic</text>
<text x="480.2" y="419.5" font-size="12.3" fill="#111" stroke="#111" stroke-width="0.2">listeria</text>
<text x="420.9" y="392.6" font-size="12.3" fill="#111" stroke="#111" stroke-width="0.2" transform="rotate(-90 420.9 392.6)">IFN<tspan font-size="10.5">&#947;</tspan> (pg/mL)</text>
<line x1="505.8" y1="326.6" x2="505.8" y2="329" stroke="#000" stroke-width="1.4"/>
<rect x="504.10" y="325.80" width="3.40" height="1.80" fill="#000"/>
<line x1="69.6" y1="422.2" x2="245.8" y2="422.2" stroke="#000" stroke-width="1.6"/>
<line x1="321.5" y1="422.0" x2="498.5" y2="422.0" stroke="#000" stroke-width="1.6"/>
<text x="107.6" y="443.0" font-size="12.3" fill="#111" stroke="#111" stroke-width="0.2">Experiment 1</text>
<text x="376.4" y="443.0" font-size="12.3" fill="#111" stroke="#111" stroke-width="0.2">Experiment 2</text>
<rect x="245.30" y="435.70" width="9.60" height="10.50" fill="#000"/>
<text x="258.6" y="445.0" font-size="12.3" fill="#111" stroke="#111" stroke-width="0.2">Ig</text>
<rect x="280.4" y="437.0" width="8.1" height="8.3" fill="#fff" stroke="#000" stroke-width="1.6"/>
<text x="291.8" y="445.0" font-size="12.6" fill="#111" stroke="#111" stroke-width="0.2">CD11b</text>
</svg></body></html>
